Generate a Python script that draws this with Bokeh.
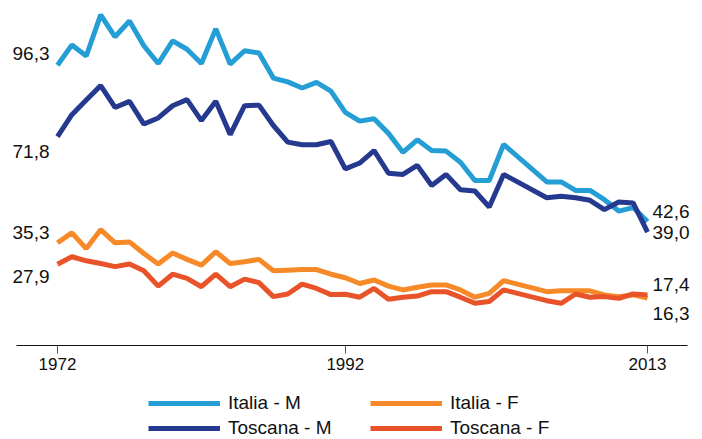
from bokeh.plotting import figure
from bokeh.models import Range1d, FixedTicker, Legend, LegendItem, Label
from bokeh.embed import file_html
from bokeh.resources import INLINE

# ---- data -------------------------------------------------------------
years = [1972, 1973, 1974, 1975, 1976, 1977, 1978, 1979, 1980, 1981,
         1982, 1983, 1984, 1985, 1986, 1987, 1988, 1989, 1990, 1991,
         1992, 1993, 1994, 1995, 1996, 1997, 1998, 1999, 2000, 2001,
         2002, 2003, 2006, 2007, 2008, 2009, 2010, 2011, 2012, 2013]

italia_m = [96.3, 103.3, 99.5, 113.6, 106.1, 111.5, 103.0, 96.9, 104.7, 101.8,
            96.9, 108.8, 96.7, 101.3, 100.5, 91.9, 90.6, 88.5, 90.4, 87.4,
            80.1, 77.1, 77.9, 72.9, 66.4, 70.7, 67.0, 66.8, 63.0, 56.7,
            56.7, 69.1, 56.2, 56.2, 53.3, 53.3, 50.1, 46.2, 47.4, 42.6]

toscana_m = [71.8, 79.3, 84.4, 89.3, 81.8, 83.9, 76.1, 78.2, 82.4, 84.5,
             77.3, 83.9, 72.5, 82.4, 82.6, 75.6, 69.9, 69.0, 69.0, 70.1,
             60.7, 62.7, 67.0, 59.2, 58.8, 61.9, 55.0, 58.8, 53.5, 53.1,
             47.6, 58.8, 50.8, 51.3, 50.8, 49.9, 46.7, 49.3, 49.0, 39.0]

italia_f = [35.3, 38.7, 33.3, 39.8, 35.3, 35.6, 31.6, 28.0, 31.8, 29.6,
            27.6, 32.2, 28.2, 28.8, 29.6, 25.7, 25.9, 26.1, 26.1, 24.5,
            23.3, 21.3, 22.5, 20.4, 19.1, 20.0, 20.8, 20.8, 19.1, 16.6,
            17.9, 22.3, 18.5, 18.8, 18.8, 18.8, 17.4, 16.8, 17.4, 16.3]

toscana_f = [27.9, 30.5, 29.1, 28.2, 27.1, 28.0, 25.7, 20.4, 24.5, 23.1,
             20.2, 24.5, 20.2, 22.8, 21.6, 16.8, 17.7, 21.1, 19.6, 17.5,
             17.6, 16.6, 19.6, 15.9, 16.6, 17.0, 18.5, 18.5, 16.6, 14.5,
             15.1, 19.1, 15.4, 14.5, 17.7, 16.6, 16.8, 16.2, 17.7, 17.4]

tick_years = [1972, 1992, 2013]
series_names = ["Italia - M", "Toscana - M", "Italia - F", "Toscana - F"]
colors = ["#259dd5", "#25398e", "#f68a28", "#e8532a"]

FONT = "Liberation Sans"


def fmt(v):
    return f"{v:.1f}".replace(".", ",")


p = figure(width=702, height=439,
           output_backend="svg", toolbar_location=None,
           x_range=Range1d(1968.04, 2016.82), y_range=Range1d(-32.3, 118.56),
           min_border_left=0, min_border_right=0, min_border_top=0,
           min_border_bottom=0)
p.outline_line_color = None
p.grid.visible = False
p.yaxis.visible = False
p.background_fill_color = "white"
p.border_fill_color = "white"

ax = p.xaxis[0]
ax.fixed_location = 0
ax.ticker = FixedTicker(ticks=tick_years)
ax.bounds = (1969.15, 2015.78)
ax.minor_tick_line_color = None
ax.major_tick_in = 0
ax.major_tick_out = 8
ax.major_tick_line_color = "#555555"
ax.axis_line_color = "#111111"
ax.major_label_text_font = FONT
ax.major_label_text_font_size = "17px"
ax.major_label_text_color = "#111111"
ax.major_label_standoff = 4

series = [italia_m, toscana_m, italia_f, toscana_f]
rends = []
for vals, col in zip(series, colors):
    r = p.line(years, vals, line_width=5, line_color=col)
    rends.append(r)

# value labels at start / end
start_offsets = [12, -15, 10, -12]
end_offsets = [10, 0, -15, 10]
for vals, so, eo in zip(series, start_offsets, end_offsets):
    p.add_layout(Label(x=years[0], y=vals[0], text=fmt(vals[0]),
                       x_offset=-8, y_offset=so, text_align="right",
                       text_baseline="middle", text_font=FONT,
                       text_font_size="19px", text_color="#111111"))
    p.add_layout(Label(x=years[-1], y=vals[-1], text=fmt(vals[-1]),
                       x_offset=5, y_offset=eo, text_align="left",
                       text_baseline="middle", text_font=FONT,
                       text_font_size="19px", text_color="#111111"))

order = [0, 2, 1, 3]
legend = Legend(items=[LegendItem(label=series_names[i], renderers=[rends[i]]) for i in order],
                orientation="horizontal", ncols=2,
                location=(148, 0), glyph_width=72, glyph_height=16,
                label_height=16, label_width=139, label_standoff=8,
                spacing=3, padding=0, margin=0,
                label_text_font=FONT, label_text_font_size="19px",
                label_text_color="#111111", border_line_color=None,
                background_fill_alpha=0)
p.add_layout(legend, "center")

open("out.html", "w").write(file_html(p, INLINE))
